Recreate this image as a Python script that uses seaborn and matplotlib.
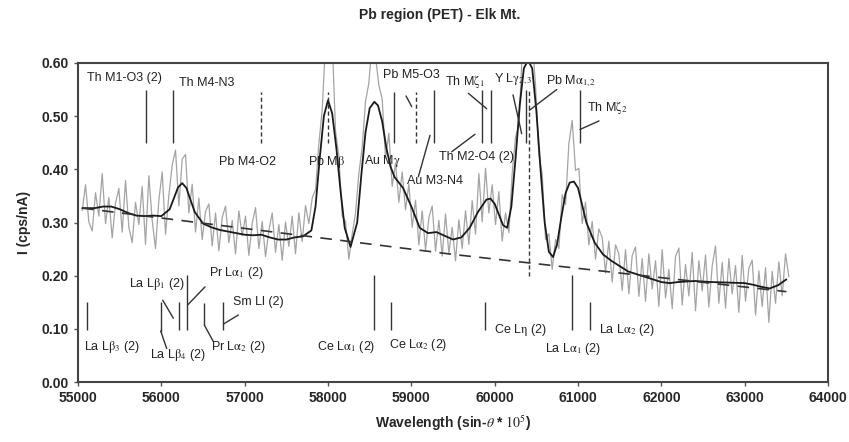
import numpy as np
import pandas as pd
import matplotlib.pyplot as plt
import seaborn as sns

# gemessenes Spektrum (grau), Schrittweite 40 in sin-theta * 1e5
wl_start = 55050
wl_step = 40
counts = [
    0.322, 0.371, 0.301, 0.284, 0.356, 0.312, 0.392, 0.298, 0.347, 0.271,
    0.336, 0.364, 0.282, 0.379, 0.291, 0.262, 0.338, 0.296, 0.368, 0.259,
    0.388, 0.304, 0.251, 0.342, 0.395, 0.278, 0.351, 0.408, 0.436, 0.331,
    0.419, 0.428, 0.318, 0.372, 0.282, 0.346, 0.268, 0.321, 0.335, 0.256,
    0.318, 0.247, 0.309, 0.331, 0.262, 0.304, 0.241, 0.322, 0.275, 0.312,
    0.238, 0.298, 0.328, 0.251, 0.302, 0.236, 0.285, 0.318, 0.244, 0.296,
    0.229, 0.301, 0.255, 0.312, 0.241, 0.318, 0.264, 0.332, 0.298, 0.346,
    0.362, 0.448, 0.512, 0.638, 0.605, 0.645, 0.472, 0.425, 0.312, 0.302,
    0.231, 0.278, 0.318, 0.392, 0.442, 0.528, 0.562, 0.641, 0.612, 0.558,
    0.532, 0.421, 0.468, 0.368, 0.412, 0.338, 0.395, 0.324, 0.372, 0.291,
    0.342, 0.258, 0.322, 0.248, 0.309, 0.331, 0.246, 0.304, 0.237, 0.316,
    0.242, 0.291, 0.228, 0.305, 0.251, 0.322, 0.259, 0.341, 0.278, 0.392,
    0.301, 0.402, 0.318, 0.371, 0.296, 0.358, 0.265, 0.318, 0.281, 0.392,
    0.461, 0.482, 0.618, 0.645, 0.628, 0.642, 0.558, 0.428, 0.392, 0.268,
    0.279, 0.212, 0.268, 0.251, 0.352, 0.334, 0.448, 0.492, 0.398, 0.402,
    0.298, 0.338, 0.258, 0.302, 0.231, 0.288, 0.272, 0.205, 0.265, 0.188,
    0.258, 0.241, 0.172, 0.249, 0.166, 0.238, 0.254, 0.161, 0.232, 0.152,
    0.241, 0.175, 0.228, 0.142, 0.249, 0.158, 0.212, 0.138, 0.236, 0.252,
    0.145, 0.221, 0.162, 0.244, 0.134, 0.228, 0.171, 0.239, 0.141, 0.218,
    0.256, 0.148, 0.225, 0.139, 0.232, 0.166, 0.219, 0.131, 0.238, 0.152,
    0.214, 0.229, 0.126, 0.209, 0.142, 0.215, 0.112, 0.208, 0.148, 0.226,
    0.162, 0.241, 0.198,
]
wavelength = [wl_start + wl_step * i for i in range(len(counts))]

# geglaettete Kurve (schwarz)
fit_x = [55050, 55100, 55200, 55300, 55400, 55500, 55600, 55700, 55800, 55900,
         56000, 56100, 56200, 56250, 56300, 56400, 56500, 56600, 56700, 56800,
         56900, 57000, 57100, 57200, 57300, 57400, 57500, 57600, 57700, 57800,
         57850, 57900, 57950, 58000, 58050, 58100, 58150, 58200, 58270, 58350,
         58400, 58450, 58500, 58556, 58600, 58650, 58700, 58750, 58800, 58900,
         59000, 59100, 59200, 59300, 59400, 59500, 59600, 59700, 59800, 59900,
         59950, 60000, 60100, 60150, 60200, 60250, 60300, 60350, 60400, 60450,
         60500, 60550, 60600, 60650, 60700, 60750, 60800, 60850, 60900, 60950,
         61000, 61100, 61200, 61300, 61400, 61500, 61600, 61700, 61800, 61900,
         62000, 62100, 62200, 62400, 62600, 62800, 63000, 63100, 63200, 63300,
         63400, 63500]
fit_y = [0.327, 0.327, 0.327, 0.330, 0.330, 0.325, 0.318, 0.313, 0.312, 0.313,
         0.312, 0.325, 0.366, 0.374, 0.365, 0.320, 0.298, 0.291, 0.286, 0.283,
         0.280, 0.277, 0.276, 0.277, 0.272, 0.268, 0.268, 0.272, 0.274, 0.285,
         0.330, 0.420, 0.500, 0.530, 0.505, 0.440, 0.360, 0.290, 0.254, 0.300,
         0.390, 0.470, 0.515, 0.527, 0.520, 0.490, 0.440, 0.405, 0.385, 0.365,
         0.330, 0.290, 0.280, 0.282, 0.275, 0.268, 0.272, 0.290, 0.320, 0.343,
         0.345, 0.335, 0.295, 0.290, 0.330, 0.420, 0.520, 0.590, 0.605, 0.590,
         0.510, 0.400, 0.300, 0.245, 0.235, 0.260, 0.310, 0.355, 0.375, 0.377,
         0.365, 0.300, 0.262, 0.240, 0.228, 0.218, 0.208, 0.203, 0.198, 0.193,
         0.188, 0.186, 0.188, 0.190, 0.188, 0.187, 0.186, 0.183, 0.179, 0.176,
         0.182, 0.193]

# Untergrund (gestrichelt)
bg_x = [55050, 59500, 63500]
bg_y = [0.327, 0.240, 0.170]

# Linienmarkierungen: x, ymin, ymax
solid_marks = [
    (55816, 0.449, 0.549), (56136, 0.449, 0.549), (58796, 0.449, 0.546),
    (59272, 0.449, 0.549), (59844, 0.449, 0.549), (59952, 0.449, 0.549),
    (60376, 0.449, 0.549), (61024, 0.449, 0.549),
    (55104, 0.098, 0.151), (55992, 0.095, 0.151), (56212, 0.098, 0.151),
    (56516, 0.107, 0.148), (56740, 0.098, 0.151), (58752, 0.098, 0.151),
    (59884, 0.098, 0.151), (61144, 0.098, 0.151),
    (56304, 0.098, 0.201), (58552, 0.098, 0.201), (60924, 0.098, 0.201),
]
dashed_marks = [
    (57193, 0.449, 0.546), (58000, 0.449, 0.546), (59056, 0.449, 0.546),
    (60416, 0.200, 0.550),
]

# Zeiger von Beschriftung zur Linie
pointers = [
    ((58936, 0.538), (59004, 0.518)),
    ((59084, 0.386), (59224, 0.464)),
    ((59684, 0.543), (59904, 0.514)),
    ((59484, 0.433), (59764, 0.466)),
    ((60220, 0.540), (60324, 0.467)),
    ((60744, 0.550), (60416, 0.511)),
    ((61252, 0.491), (61024, 0.475)),
    ((56016, 0.154), (56144, 0.120)),
    ((56524, 0.179), (56316, 0.145)),
    ((56064, 0.063), (55992, 0.096)),
    ((56516, 0.107), (56624, 0.076)),
    ((56924, 0.126), (56744, 0.109)),
]

labels = [
    (55552, 0.571, 'Th M1-O3 (2)'),
    (56542, 0.562, 'Th M4-N3'),
    (57030, 0.413, 'Pb M4-O2'),
    (57976, 0.413, r'Pb M$\mathrm{\beta}$'),
    (58654, 0.415, r'Au M$\mathrm{\gamma}$'),
    (58996, 0.577, 'Pb M5-O3'),
    (59644, 0.566, r'Th M$\mathrm{\zeta_1}$'),
    (60220, 0.570, r'Y L$\mathrm{\gamma_{2,3}}$'),
    (60916, 0.566, r'Pb M$\mathrm{\alpha_{1,2}}$'),
    (61348, 0.517, r'Th M$\mathrm{\zeta_2}$'),
    (59776, 0.423, 'Th M2-O4 (2)'),
    (59278, 0.378, 'Au M3-N4'),
    (55410, 0.065, r'La L$\mathrm{\beta_3}$ (2)'),
    (56194, 0.051, r'La L$\mathrm{\beta_4}$ (2)'),
    (55942, 0.184, r'La L$\mathrm{\beta_1}$ (2)'),
    (56896, 0.205, r'Pr L$\mathrm{\alpha_1}$ (2)'),
    (56926, 0.066, r'Pr L$\mathrm{\alpha_2}$ (2)'),
    (57160, 0.151, 'Sm Ll (2)'),
    (58216, 0.066, r'Ce L$\mathrm{\alpha_1}$ (2)'),
    (59086, 0.070, r'Ce L$\mathrm{\alpha_2}$ (2)'),
    (60310, 0.098, r'Ce L$\mathrm{\eta}$ (2)'),
    (60940, 0.063, r'La L$\mathrm{\alpha_1}$ (2)'),
    (61588, 0.098, r'La L$\mathrm{\alpha_2}$ (2)'),
]

sns.set_style('white')
plt.rcParams['font.family'] = ['Liberation Sans', 'DejaVu Sans']
plt.rcParams['mathtext.fontset'] = 'stix'

spec = pd.DataFrame({'wl': wavelength, 'I': counts})
fit = pd.DataFrame({'wl': fit_x, 'I': fit_y})
bg = pd.DataFrame({'wl': bg_x, 'I': bg_y})

fig = plt.figure(figsize=(8.49, 4.42), dpi=100)
ax = fig.add_axes([0.0919, 0.1357, 0.8834, 0.7218])

sns.lineplot(data=spec, x='wl', y='I', color='#a4a4a4', linewidth=0.9, ax=ax)
sns.lineplot(data=fit, x='wl', y='I', color='#1a1a1a', linewidth=1.3, ax=ax)
sns.lineplot(data=bg, x='wl', y='I', color='#333333', linewidth=1.2,
             linestyle=(0, (7, 5)), ax=ax)

for x, y0, y1 in solid_marks:
    ax.vlines(x, y0, y1, color='#333333', linewidth=1.0)
for x, y0, y1 in dashed_marks:
    ax.vlines(x, y0, y1, color='#333333', linewidth=1.0, linestyle=(0, (3, 2)))
for (xa, ya), (xb, yb) in pointers:
    ax.plot([xa, xb], [ya, yb], color='#333333', linewidth=1.0)
for x, y, txt in labels:
    ax.text(x, y, txt, ha='center', va='center', fontsize=9, color='#222222')

ax.set_xlim(55000, 64000)
ax.set_ylim(0, 0.6)
ax.set_xticks(np.arange(55000, 64001, 1000))
ax.set_yticks(np.arange(0, 0.61, 0.1))
ax.set_yticklabels([f'{v:.2f}' for v in np.arange(0, 0.61, 0.1)])
ax.tick_params(axis='both', labelsize=10, length=3, width=1, color='#555555',
               direction='out', bottom=True, left=True)
for lab in ax.get_xticklabels() + ax.get_yticklabels():
    lab.set_fontweight('bold')
for sp in ax.spines.values():
    sp.set_color('#444444')
    sp.set_linewidth(1.5)

ax.set_xlabel(r'Wavelength (sin-$\theta$ * $10^5$)', fontsize=10,
              fontweight='bold', labelpad=6)
ax.set_ylabel('I (cps/nA)', fontsize=10, fontweight='bold', labelpad=8)
fig.text(0.518, 0.965, 'Pb region (PET) - Elk Mt.', ha='center', va='center',
         fontsize=10, fontweight='bold')

fig.savefig('out.png', dpi=100)
